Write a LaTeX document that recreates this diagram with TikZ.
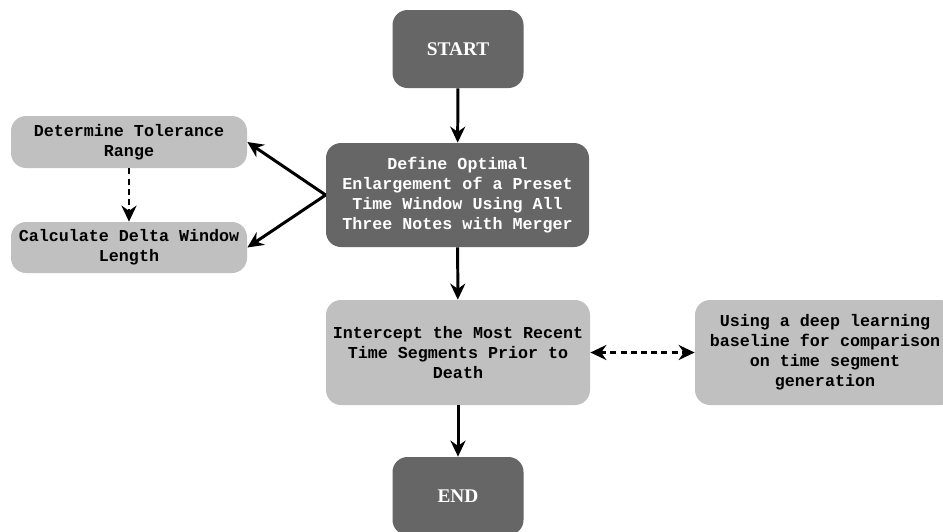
\documentclass[tikz,border=0pt]{standalone}
\usepackage{fontspec}
\setmonofont{Liberation Mono}
\newfontfamily\capfont{Liberation Serif}
\usepackage{xcolor}
\usetikzlibrary{positioning,arrows.meta,calc}
\definecolor{escuro}{HTML}{666666}
\definecolor{claro}{HTML}{C0C0C0}
\begin{document}
\begin{tikzpicture}[
    darkbox/.style={draw=none, fill=escuro, rounded corners=0.3cm, align=center,
        text=white, font=\ttfamily\bfseries\fontsize{9.5}{11.4}\selectfont},
    lightbox/.style={draw=none, fill=claro, rounded corners=0.3cm, align=center,
        text=black, font=\ttfamily\bfseries\fontsize{9.5}{11.4}\selectfont},
    endbox/.style={darkbox, minimum width=2.62cm, minimum height=1.56cm,
        font=\capfont\bfseries\fontsize{11}{13}\selectfont},
    seta/.style={line width=1.7pt, -{Stealth[length=0.32cm, width=0.3cm]}},
    setatrac/.style={seta, dash pattern=on 3.4pt off 2.4pt}
]
    \useasboundingbox (0,0) rectangle (18.86,-10.62);
    \clip (0,0) rectangle (18.86,-10.62);
    % caixas principais
    \node[endbox] (start) at (9.16,-0.98) {START};
    \node[darkbox, minimum width=5.26cm, minimum height=2.08cm] (define) at (9.15,-3.9)
        {Define Optimal\\Enlargement of a Preset\\Time Window Using All\\Three Notes with Merger};
    \node[lightbox, minimum width=5.28cm, minimum height=2.1cm] (intercept) at (9.16,-7.05)
        {Intercept the Most Recent\\Time Segments Prior to\\Death};
    \node[endbox] (end) at (9.16,-9.92) {END};
    % caixas laterais
    \node[lightbox, minimum width=4.72cm, minimum height=1.04cm] (tolerance) at (2.58,-2.84)
        {Determine Tolerance\\Range};
    \node[lightbox, minimum width=4.72cm, minimum height=1.02cm] (delta) at (2.58,-4.95)
        {Calculate Delta Window\\Length};
    \node[lightbox, minimum width=5.2cm, minimum height=2.1cm] (baseline) at (16.5,-7.05)
        {Using a deep learning\\baseline for comparison\\on time segment\\generation};
    % setas
    \draw[seta] (start) -- (define);
    \draw[seta] (define.west) -- (tolerance.east);
    \draw[seta] (define.west) -- (delta.east);
    \draw[setatrac] (tolerance) -- (delta);
    \draw[seta] (define) -- (intercept);
    \draw[setatrac, {Stealth[length=0.32cm, width=0.3cm]}-{Stealth[length=0.32cm, width=0.3cm]}]
        (intercept) -- (baseline);
    \draw[seta] (intercept) -- (end);
\end{tikzpicture}
\end{document}
